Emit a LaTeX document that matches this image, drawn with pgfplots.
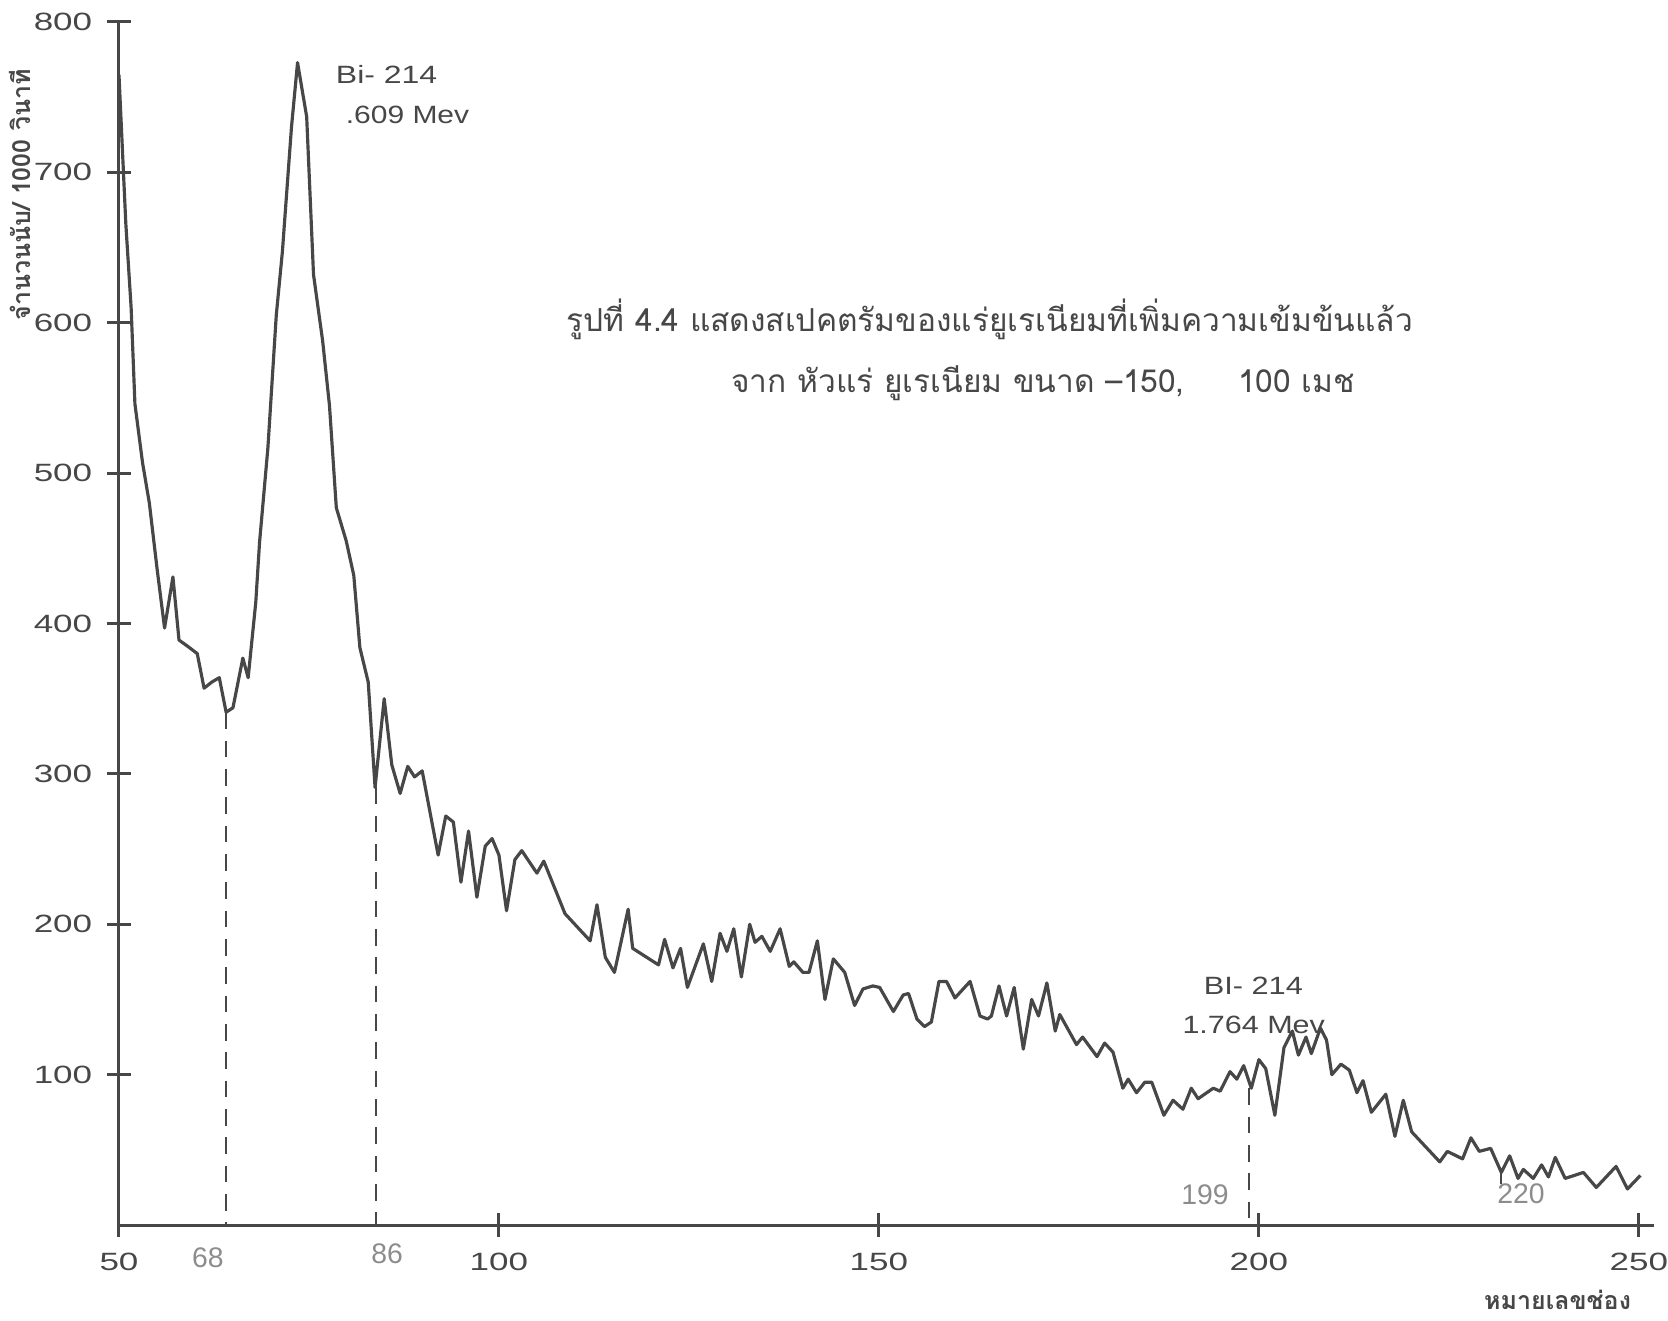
\documentclass[border=0pt]{standalone}
\usepackage{fontspec}
\usepackage{graphicx}
\usepackage{pgfplots}
\pgfplotsset{compat=1.18}
\setmainfont{Liberation Sans}
\newfontfamily\thaifont[Script=Thai]{Loma}
\definecolor{ink}{gray}{0.28}
\definecolor{lite}{gray}{0.55}
\newcommand{\wide}[1]{\scalebox{1.4}[1]{#1}}

\begin{document}
\begin{tikzpicture}
\begin{axis}[
  scale only axis, width=460.5pt, height=360.9pt,
  xmin=50, xmax=252, ymin=0, ymax=800,
  axis x line=bottom, axis y line=left,
  axis line style={-, ink, line width=0.9pt},
  xtick={50,100,150,200,250}, ytick={100,200,...,800},
  tick align=center, major tick length=7pt,
  tick style={ink, line width=0.9pt},
  /pgf/number format/assume math mode=true,
  tick label style={font=\fontsize{7.5}{9}\selectfont, text=ink},
  xticklabel={\wide{\pgfmathprintnumber{\tick}}},
  yticklabel={\wide{\pgfmathprintnumber{\tick}}},
  yticklabel style={xshift=-1pt},
  xticklabel style={yshift=-1.5pt},
  clip=false,
]
\addplot[ink, line width=0.95pt, line join=round] coordinates {
(50,765) (50.9,666) (51.6,610) (52.1,546) (53.1,507) (54.0,480) (55.0,437) (56.0,397) (57.1,431) (57.9,389) (59.0,385) (60.3,380) (61.2,357) (62.2,361) (63.2,364) (64.1,341) (65.0,344) (66.3,377) (67.0,364) (68.0,414) (68.5,454) (69.6,517) (70.7,605) (71.5,647) (72.7,730) (73.5,773) (74.7,737) (75.6,632) (76.8,588) (77.7,545) (78.6,477) (79.9,455) (80.9,432) (81.7,384) (82.8,361) (83.7,291) (84.9,350) (85.9,306) (87.0,287) (88.0,305) (88.9,298) (89.9,302) (92.0,246) (93.0,272) (94.0,268) (95.0,228) (96.0,262) (97.1,218) (98.2,252) (99.1,257) (100.0,246) (101.0,209) (102.1,243) (103.0,249) (105.0,234) (105.9,242) (108.7,207) (112.0,189) (112.9,213) (114.0,178) (115.2,168) (117.0,210) (117.6,184) (121.0,173) (121.8,190) (122.9,171) (123.9,184) (124.8,158) (126.9,187) (128.0,162) (129.1,194) (130.0,182) (130.9,197) (131.9,165) (133.0,200) (133.7,188) (134.6,192) (135.7,182) (137.0,197) (138.2,172) (138.8,175) (140.0,168) (140.8,168) (141.9,189) (142.9,150) (144.0,177) (145.5,168) (146.8,146) (147.9,157) (149.2,159) (150.1,158) (151.9,142) (153.2,153) (153.9,154) (155.0,137) (156.0,132) (156.9,135) (157.9,162) (158.9,162) (160.0,151) (162.0,162) (163.3,139) (164.3,137) (164.8,139) (165.8,159) (166.8,139) (167.8,158) (169.0,117) (170.1,150) (171.0,139) (172.1,161) (173.2,129) (173.8,140) (176.0,120) (176.8,125) (178.7,112) (179.7,121) (180.8,115) (182.1,91) (182.8,97) (183.9,88) (185.0,95) (185.9,95) (187.5,73) (188.7,83) (190.0,77) (191.1,91) (192.0,84) (194.0,91) (194.9,89) (196.2,102) (197.1,97) (198.0,106) (199.0,91) (200.0,110) (200.9,104) (202.1,73) (203.3,118) (204.4,129) (205.2,113) (206.2,125) (206.9,114) (208.1,131) (208.9,123) (209.6,100) (210.8,107) (211.9,103) (212.9,88) (213.7,96) (214.8,75) (216.7,87) (217.9,59) (219.0,83) (220.1,62) (223.8,42) (224.8,49) (226.8,44) (227.9,58) (229.0,49) (230.5,51) (231.9,35) (233.0,46) (234.1,31) (234.8,37) (236.1,31) (237.2,40) (238.1,32) (239.0,45) (240.3,31) (242.7,35) (244.4,25) (247.0,39) (248.5,24) (250.2,33)
};
\addplot[ink, line width=0.7pt, dash pattern=on 5pt off 3.5pt] coordinates {(64.1,341) (64.1,0)};
\addplot[ink, line width=0.7pt, dash pattern=on 5pt off 3.5pt] coordinates {(83.8,291) (83.8,0)};
\addplot[ink, line width=0.7pt, dash pattern=on 5pt off 3.5pt] coordinates {(198.7,91) (198.7,0)};
\addplot[ink, line width=0.7pt] coordinates {(231.9,35) (231.9,27)};

\node[lite, font=\fontsize{8.5}{10}\selectfont] at (axis cs:61.7,-22) {68};
\node[lite, font=\fontsize{8.5}{10}\selectfont] at (axis cs:85.3,-19) {86};
\node[lite, font=\fontsize{8.5}{10}\selectfont] at (axis cs:192.9,20) {199};
\node[lite, font=\fontsize{8.5}{10}\selectfont] at (axis cs:234.5,21) {220};

\node[anchor=west, ink, font=\fontsize{7.5}{9}\selectfont] at (axis cs:77.0,765) {\scalebox{1.28}[1]{Bi- 214}};
\node[anchor=west, ink, font=\fontsize{7.5}{9}\selectfont] at (axis cs:78.3,738) {\scalebox{1.2}[1]{.609 Mev}};
\node[anchor=west, ink, font=\fontsize{7.5}{9}\selectfont] at (axis cs:191.2,159) {\scalebox{1.23}[1]{BI- 214}};
\node[anchor=west, ink, font=\fontsize{7.5}{9}\selectfont] at (axis cs:188.4,133) {\scalebox{1.22}[1]{1.764 Mev}};

\node[ink, font=\thaifont\fontsize{9.5}{12}\selectfont] at (axis cs:164.6,602) {รูปที่ 4.4 แสดงสเปคตรัมของแร่ยูเรเนียมที่เพิ่มความเข้มข้นแล้ว};
\node[ink, font=\thaifont\fontsize{9.5}{12}\selectfont] at (axis cs:171.6,560) {จาก หัวแร่ ยูเรเนียม ขนาด –150,\ \ \ \ \ 100 เมช};

\node[rotate=90, ink, font=\thaifont\bfseries\fontsize{7.5}{9}\selectfont] at (axis cs:37.0,685) {จำนวนนับ/ 1000 วินาที};
\node[ink, font=\thaifont\bfseries\fontsize{7.5}{9}\selectfont] at (axis cs:239.3,-50) {หมายเลขช่อง};

\coordinate (LL) at (rel axis cs:-0.0775,-0.079);
\coordinate (UR) at (rel axis cs:1.0091,1.0183);
\end{axis}
\pgfresetboundingbox
\path[use as bounding box] (LL) rectangle (UR);
\end{tikzpicture}
\end{document}
